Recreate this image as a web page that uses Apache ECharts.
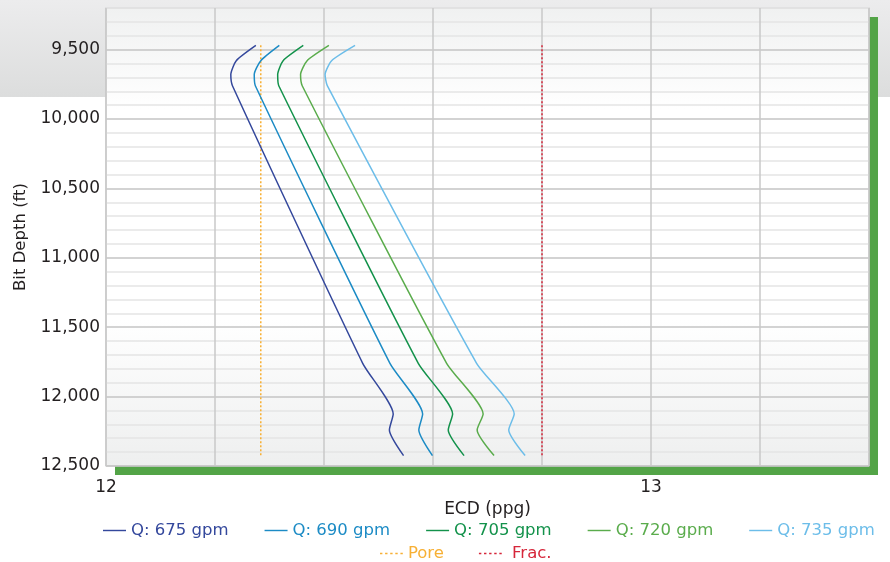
<!DOCTYPE html>
<html>
<head>
<meta charset="utf-8">
<script src="https://cdn.jsdelivr.net/npm/echarts@6/dist/echarts.min.js"></script>
<style>
html,body{margin:0;padding:0;background:#ffffff;}
#chart{width:890px;height:562px;}
</style>
</head>
<body>
<div id="chart"></div>
<script>
// ---- data ----
const depths = [9470, 9580, 9680, 9760, 11760, 12125, 12240, 12425];
const q675 = [12.275, 12.239, 12.229, 12.232, 12.471, 12.527, 12.520, 12.546];
const q690 = [12.318, 12.284, 12.272, 12.274, 12.521, 12.581, 12.574, 12.599];
const q705 = [12.362, 12.325, 12.315, 12.317, 12.573, 12.636, 12.628, 12.657];
const q720 = [12.409, 12.369, 12.357, 12.360, 12.625, 12.692, 12.681, 12.712];
const q735 = [12.457, 12.414, 12.402, 12.406, 12.680, 12.749, 12.739, 12.769];
const limitDepths = [9468, 12432];
const pore = [12.284, 12.284];
const frac = [12.80, 12.80];
const seriesNames = ['Q: 675 gpm', 'Q: 690 gpm', 'Q: 705 gpm', 'Q: 720 gpm', 'Q: 735 gpm'];
const xTickLabels = [12, 13];
const yTickLabels = [9500, 10000, 10500, 11000, 11500, 12000, 12500];

const colors = ['#34489c', '#1c8bc5', '#13924b', '#5aac4c', '#6cbde9'];
const poreColor = '#f7b035';
const fracColor = '#d6263a';
const FONT = 'DejaVu Sans';

const solidIcon = 'path://M0 0H24V1.5H0Z';
const dotIcon = 'path://M0 0H2.4V1.5H0Z M5.1 0H7.5V1.5H5.1Z M10.2 0H12.6V1.5H10.2Z M15.3 0H17.7V1.5H15.3Z M20.4 0H22.8V1.5H20.4Z';

function pairs(xs, ys) { return xs.map((x, i) => [x, ys[i]]); }

const qSeries = [q675, q690, q705, q720, q735].map((vals, i) => ({
  name: seriesNames[i],
  type: 'line',
  data: pairs(vals, depths),
  symbol: 'none',
  smooth: 0.2,
  lineStyle: { color: colors[i], width: 1.5 },
  itemStyle: { color: colors[i] },
  z: 5
}));

const G = { left: 106, top: 8, width: 763, height: 458 };

const chart = echarts.init(document.getElementById('chart'), null, { renderer: 'canvas' });
chart.setOption({
  animation: false,
  backgroundColor: '#ffffff',
  graphic: [{
    type: 'rect', left: 0, top: 0, z: -10, silent: true,
    shape: { width: 890, height: 97 },
    style: { fill: { type: 'linear', x: 0, y: 0, x2: 0, y2: 1,
      colorStops: [{ offset: 0, color: '#ececed' }, { offset: 1, color: '#dcdddd' }] } }
  }, {
    type: 'rect', left: G.left + 9, top: G.top + 9, z: -9, silent: true,
    shape: { width: G.width, height: G.height },
    style: { fill: '#53a447' }
  }, {
    type: 'rect', left: G.left, top: G.top, z: -8, silent: true,
    shape: { width: G.width, height: G.height },
    style: { fill: { type: 'linear', x: 0, y: 0, x2: 0, y2: 1,
      colorStops: [{ offset: 0, color: '#f0f1f1' }, { offset: 0.22, color: '#ffffff' },
                   { offset: 0.68, color: '#ffffff' }, { offset: 1, color: '#eeefef' }] } }
  }],
  grid: {
    left: G.left, right: 890 - G.left - G.width, top: G.top, bottom: 562 - G.top - G.height,
    show: true, backgroundColor: 'transparent',
    borderColor: '#c6c6c6', borderWidth: 1.2
  },
  xAxis: {
    type: 'value', min: 12, max: 13.4, interval: 0.2,
    name: 'ECD (ppg)', nameLocation: 'middle', nameGap: 23,
    nameTextStyle: { fontFamily: FONT, fontSize: 17, color: '#231f20' },
    axisLine: { show: false }, axisTick: { show: false },
    axisLabel: {
      fontFamily: FONT, fontSize: 17, color: '#231f20', margin: 13,
      formatter: v => xTickLabels.some(t => Math.abs(t - v) < 1e-6) ? String(Math.round(v)) : ''
    },
    splitLine: { show: true, lineStyle: { color: '#c8c8c8', width: 1.5 } }
  },
  yAxis: {
    type: 'value', inverse: true, min: 9200, max: 12500, interval: 100,
    name: 'Bit Depth (ft)', nameLocation: 'middle', nameGap: 76,
    nameTextStyle: { fontFamily: FONT, fontSize: 16.5, color: '#231f20' },
    axisLine: { show: false }, axisTick: { show: false },
    axisLabel: {
      fontFamily: FONT, fontSize: 17, color: '#231f20', margin: 6,
      formatter: v => yTickLabels.indexOf(Math.round(v)) >= 0 ? Math.round(v).toLocaleString('en-US') : ''
    },
    splitLine: { show: true, lineStyle: {
      color: ['#e4e4e4', '#e4e4e4', '#e4e4e4', '#c4c4c4', '#e4e4e4'], width: 1.6 } }
  },
  legend: [{
    left: 103, top: 522, padding: 0, itemWidth: 23, itemHeight: 1.5, itemGap: 36,
    textStyle: { fontFamily: FONT, fontSize: 16.5 },
    data: seriesNames.map((n, i) => ({ name: n, icon: solidIcon, textStyle: { color: colors[i] } }))
  }, {
    left: 380, top: 545, padding: 0, itemWidth: 23, itemHeight: 1.5, itemGap: 35,
    textStyle: { fontFamily: FONT, fontSize: 16.5 },
    data: [{ name: 'Pore', icon: dotIcon, textStyle: { color: poreColor } },
           { name: ' Frac.', icon: dotIcon, textStyle: { color: fracColor } }]
  }],
  series: qSeries.concat([
    { name: 'Pore', type: 'line', data: pairs(pore, limitDepths), symbol: 'none',
      lineStyle: { color: poreColor, width: 1.5, type: [2, 2] }, itemStyle: { color: poreColor }, z: 4 },
    { name: ' Frac.', type: 'line', data: pairs(frac, limitDepths), symbol: 'none',
      lineStyle: { color: fracColor, width: 1.5, type: [2, 2] }, itemStyle: { color: fracColor }, z: 4 }
  ])
});
</script>
</body>
</html>
